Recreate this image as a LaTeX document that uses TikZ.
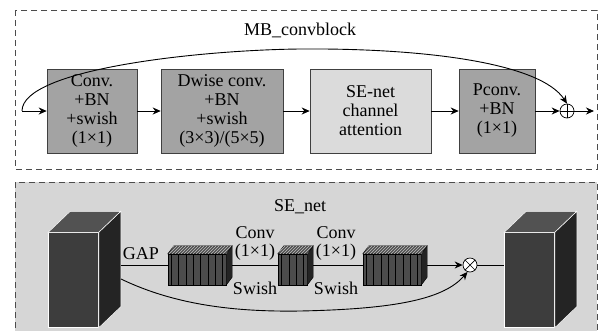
\documentclass[tikz,border=0pt]{standalone}
\usepackage{fontspec}
\setmainfont{Liberation Serif}
\usetikzlibrary{calc,arrows.meta,patterns}
\definecolor{stagedark}{gray}{0.64}
\definecolor{stagelight}{gray}{0.86}
\definecolor{panelgray}{gray}{0.84}
\definecolor{cubefront}{gray}{0.24}
\definecolor{cubeside}{gray}{0.14}
\definecolor{cubetop}{gray}{0.32}
\definecolor{slabgray}{gray}{0.30}
\def\prism[#1](#2)(#3:#4){%
	\filldraw[#1,fill=cubeside] (#2.north east) -- ($(#2.north east)+(#3,-#4)$) -- ($(#2.south east)+(#3,-#4)$) -- (#2.south east) -- cycle;
	\filldraw[#1,fill=cubetop] (#2.north west) -- ($(#2.north west)+(#3,-#4)$) -- ($(#2.north east)+(#3,-#4)$) -- (#2.north east) -- cycle;}
\tikzset{
	stage/.style={draw=black!75, line width=0.6pt, fill=stagedark, minimum width=#1, minimum height=84, inner sep=0pt, align=center},
	flow/.style={-{Stealth[length=8pt,width=7pt]}, line width=0.9pt},
	link/.style={line width=0.9pt},
	panel/.style={dash pattern=on 6pt off 4pt, draw=black!70, line width=0.7pt},
	sum/.style={circle, draw, line width=0.7pt, minimum size=14, inner sep=0pt, fill=white},
	slab/.style={draw=black, fill=slabgray, minimum width=#1, minimum height=31, inner sep=0pt},
	volume/.style={draw=white, line width=0.5pt, fill=cubefront, minimum width=50, minimum height=95, inner sep=0pt},
}

\begin{document}
\begin{tikzpicture}[x=1pt,y=-1pt,font=\fontsize{18}{19}\selectfont]
		%%%%% START %%%%%
		\useasboundingbox (0,0) rectangle (601,330);
		
		% MB_convblock
		\draw[panel] (15,10) rectangle (597,169);
		\node (mbtitle) at (300,30) {MB\_convblock};
		
		\node[stage=90] (conv) at (92,111) {Conv.\\+BN\\+swish\\(1×1)};
		\node[stage=122] (dw) at (222,111) {Dwise conv.\\+BN\\+swish\\(3×3)/(5×5)};
		\node[stage=121, fill=stagelight] (se) at (370.5,111) {SE-net\\channel\\attention};
		\node[stage=76] (pc) at (497,111) {Pconv.\\+BN\\(1×1)};
		\node[sum] (plus) at (567,111) {};
		\draw[line width=0.7pt] (plus.north) -- (plus.south) (plus.west) -- (plus.east);
		\coordinate (in) at (22,111);
		\coordinate (out) at (594,111);
		
		\draw[flow] (in) -- (conv);
		\draw[flow] (conv) -- (dw);
		\draw[flow] (dw) -- (se);
		\draw[flow] (se) -- (pc);
		\draw[flow] (pc) -- (plus);
		\draw[flow] (plus) -- (out);
		\draw[flow] (in) .. controls +(0,-42) and (200,50) .. (300,49) .. controls (420,48) and (540,62) .. (plus.north);
		
		% SE_net
		\draw[panel, fill=panelgray] (15,182) rectangle (597,345);
		\node (setitle) at (300,207) {SE\_net};
		
		\coordinate (gapin) at (121,265);
		\node[sum] (mul) at (470,265) {};
		\draw[line width=0.7pt] (mul.north west) -- (mul.south east) (mul.north east) -- (mul.south west);
		
		\node[volume] (lcube) at (73.5,280) {};
		\prism[draw=white, line width=0.5pt](lcube)(22:21)
		\node[volume] (rcube) at (529.5,280) {};
		\prism[draw=white, line width=0.5pt](rcube)(22:21)
		
		\node[slab=58] (ga) at (197,269.5) {};
		\node[slab=29] (cb) at (292.5,269.5) {};
		\node[slab=58] (cc) at (392,269.5) {};
		\foreach \s in {ga,cb,cc}{
			\prism[draw=black, line width=0.4pt](\s)(6:8)
			\fill[pattern=north east lines, pattern color=white!75!black] (\s.north west) -- ($(\s.north west)+(6,-8)$) -- ($(\s.north east)+(6,-8)$) -- (\s.north east) -- cycle;
		}
		\foreach \s/\n in {ga/8,cb/4,cc/8}{
			\foreach \i in {1,...,\n}
				\draw[black, line width=0.6pt] ($(\s.south west)!{(\i-0.5)/\n}!(\s.south east)$) -- ($(\s.north west)!{(\i-0.5)/\n}!(\s.north east)$);
		}
		
		\draw[link] (gapin) -- (gapin -| ga.west);
		\draw[link] ($(ga.east |- gapin)+(6,0)$) -- (gapin -| cb.west);
		\draw[link] ($(cb.east |- gapin)+(6,0)$) -- (gapin -| cc.west);
		\draw[flow] ($(cc.east |- gapin)+(6,0)$) -- (mul);
		\draw[link] (mul) -- (mul -| rcube.west);
		\draw[flow] (121,279) .. controls (175,305) and (235,312) .. (300,311) .. controls (400,309) and (445,298) .. (mul.250);
		
		\node (gap) at (141,254) {GAP};
		\node (convA) at (255,233) {Conv};
		\node (kerA) at (255,252) {(1×1)};
		\node (swA) at (255,288) {Swish};
		\node (convB) at (336,233) {Conv};
		\node (kerB) at (336,252) {(1×1)};
		\node (swB) at (336,288) {Swish};
		%%%%% END %%%%%
	\end{tikzpicture}
\end{document}
